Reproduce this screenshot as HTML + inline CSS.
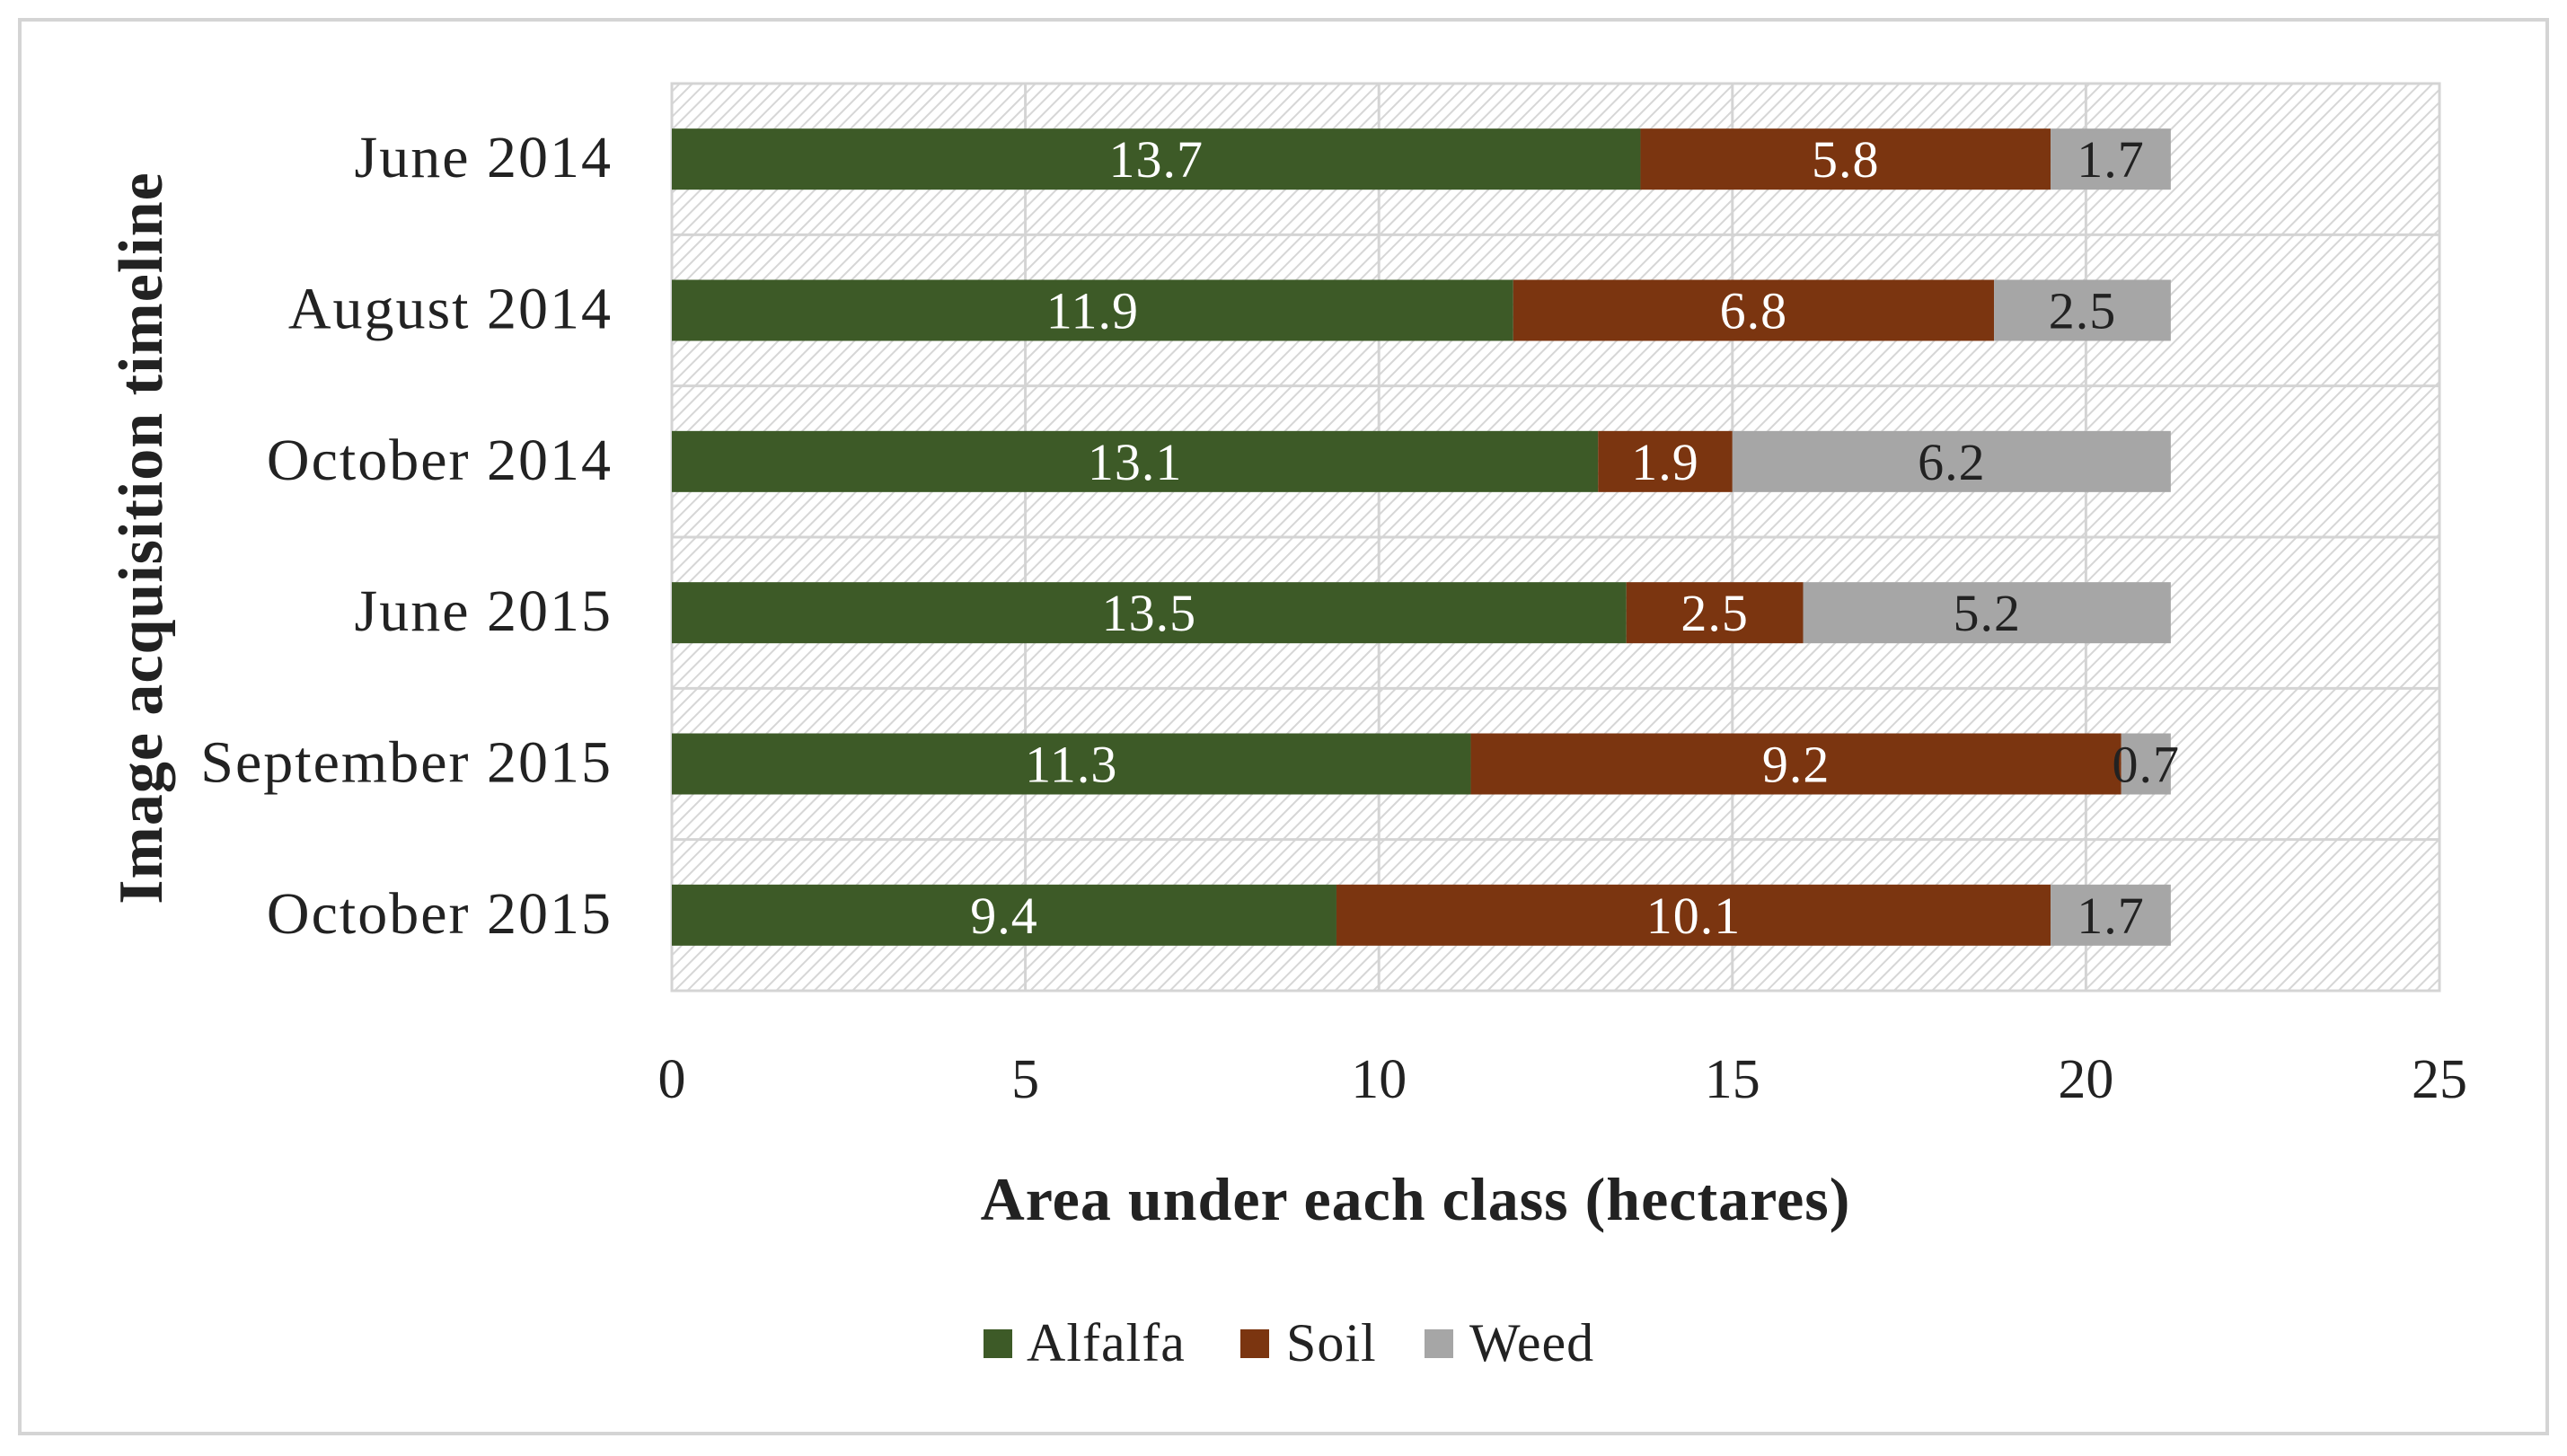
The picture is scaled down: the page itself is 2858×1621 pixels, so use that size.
<!DOCTYPE html>
<html><head><meta charset="utf-8"><style>
body{margin:0;background:#fff}
svg text{font-family:"Liberation Serif",serif}
</style></head><body>
<svg id="c" width="2858" height="1616" xmlns="http://www.w3.org/2000/svg">
<defs><pattern id="h" width="10" height="10" patternUnits="userSpaceOnUse" patternTransform="rotate(45)">
<rect width="10" height="10" fill="#fff"/><line x1="0" y1="0" x2="0" y2="10" stroke="#d6d6d6" stroke-width="4"/></pattern></defs>
<rect x="22" y="22" width="2814" height="1574" fill="#fff" stroke="#d4d4d4" stroke-width="4"/>
<rect x="748" y="93" width="1968" height="1010" fill="url(#h)" stroke="#d4d4d4" stroke-width="3"/>
<g id="grid"></g><g id="bars"></g><g id="labels"></g>
<text x="180" y="599" transform="rotate(-90 180 599)" text-anchor="middle" font-size="70" font-weight="bold" letter-spacing="1" fill="#222">Image acquisition timeline</text>
<text x="1576" y="1358" text-anchor="middle" font-size="68" font-weight="bold" letter-spacing="1" fill="#222">Area under each class (hectares)</text>
<g>
<rect x="1095" y="1480" width="32" height="32" fill="#3d5a27"/>
<text x="1143" y="1515" font-size="60" letter-spacing="1" fill="#222">Alfalfa</text>
<rect x="1381" y="1480" width="32" height="32" fill="#7b3510"/>
<text x="1432" y="1515" font-size="60" letter-spacing="1" fill="#222">Soil</text>
<rect x="1586" y="1480" width="32" height="32" fill="#a6a6a6"/>
<text x="1636" y="1515" font-size="60" letter-spacing="1" fill="#222">Weed</text>
</g>
</svg>
<script>
const categories=["June 2014","August 2014","October 2014","June 2015","September 2015","October 2015"];
const alfalfa=[13.7,11.9,13.1,13.5,11.3,9.4];
const soil=[5.8,6.8,1.9,2.5,9.2,10.1];
const weed=[1.7,2.5,6.2,5.2,0.7,1.7];
const xTicks=[0,5,10,15,20,25];
const NS="http://www.w3.org/2000/svg";
const X0=748,X1=2716,Y0=93,Y1=1103,XMAX=25;
const band=(Y1-Y0)/categories.length;
function xs(v){return X0+(X1-X0)*v/XMAX;}
function mk(tag,attrs,parent){const e=document.createElementNS(NS,tag);for(const k in attrs)e.setAttribute(k,attrs[k]);parent.appendChild(e);return e;}
const grid=document.getElementById('grid'),bars=document.getElementById('bars'),labels=document.getElementById('labels');
xTicks.forEach(t=>{
  if(t>0&&t<XMAX){const l=mk('line',{x1:xs(t),x2:xs(t),y1:Y0,y2:Y1,stroke:'#d4d4d4','stroke-width':3},grid);
  
  }
  const tx=mk('text',{x:xs(t),y:1222,'text-anchor':'middle','font-size':62,fill:'#222'},labels);
  tx.textContent=t;
  
  
});
for(let i=1;i<categories.length;i++){
  const l=mk('line',{x1:X0,x2:X1,y1:Y0+band*i,y2:Y0+band*i,stroke:'#d4d4d4',"stroke-width":3},grid);
  
  
}
const series=[[alfalfa,'#3d5a27','#fff','alfalfa'],[soil,'#7b3510','#fff','soil'],[weed,'#a6a6a6','#222','weed']];
categories.forEach((c,i)=>{
  const yc=Y0+band*i+band/2;
  const t=mk('text',{x:682,y:yc+20,'text-anchor':'end','font-size':66,'letter-spacing':2,fill:'#222'},labels);
  t.textContent=c;
  
  
  let acc=0;
  series.forEach(s=>{
    const v=s[0][i];
    const r=mk('rect',{x:xs(acc),y:yc-34,width:xs(acc+v)-xs(acc),height:68,fill:s[1]},bars);
    
    
    const lt=mk('text',{x:(xs(acc)+xs(acc+v))/2,y:yc+20,'text-anchor':'middle','font-size':58,'letter-spacing':1,fill:s[2]},labels);
    lt.textContent=v.toFixed(1);
    
    
    acc+=v;
  });
});
</script>
</body></html>
